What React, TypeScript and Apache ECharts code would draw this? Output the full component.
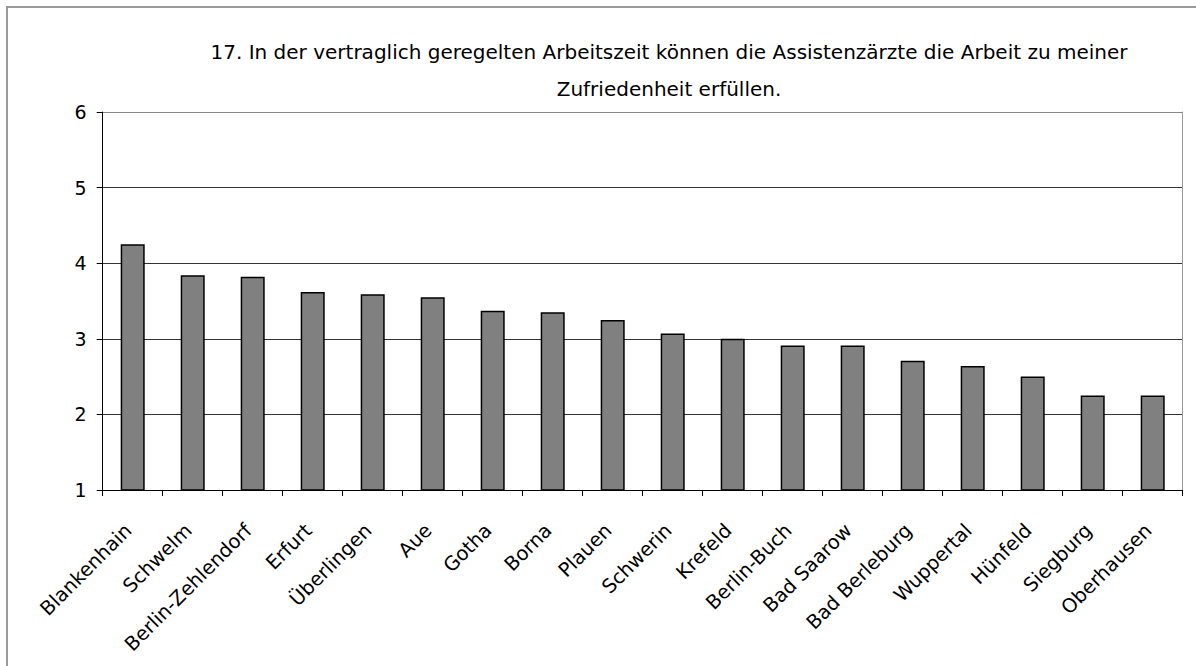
import React, { useEffect, useRef } from "react";
import * as echarts from "echarts";

const titleLine1 =
  "17. In der vertraglich geregelten Arbeitszeit können die Assistenzärzte die Arbeit zu meiner";
const titleLine2 = "Zufriedenheit erfüllen.";

const categories = [
  "Blankenhain",
  "Schwelm",
  "Berlin-Zehlendorf",
  "Erfurt",
  "Überlingen",
  "Aue",
  "Gotha",
  "Borna",
  "Plauen",
  "Schwerin",
  "Krefeld",
  "Berlin-Buch",
  "Bad Saarow",
  "Bad Berleburg",
  "Wuppertal",
  "Hünfeld",
  "Siegburg",
  "Oberhausen",
];

const values = [
  4.25, 3.84, 3.82, 3.62, 3.59, 3.55, 3.37, 3.35, 3.25, 3.07, 3.0, 2.91, 2.91,
  2.71, 2.64, 2.5, 2.25, 2.25,
];

const yMin = 1;
const yMax = 6;
const yInterval = 1;

const FONT = "'DejaVu Sans', 'Liberation Sans', Arial, sans-serif";

export default function App() {
  const ref = useRef<HTMLDivElement>(null);

  useEffect(() => {
    if (!ref.current) return;
    const chart = echarts.init(ref.current, null, { renderer: "svg" });
    const titleStyle = {
      fontFamily: FONT,
      fontSize: 20,
      fontWeight: "normal",
      color: "#000",
      lineHeight: 24,
    };
    chart.setOption({
      animation: false,
      backgroundColor: "#ffffff",
      textStyle: { fontFamily: FONT },
      title: [
        {
          text: titleLine1,
          left: 669,
          top: 40,
          textAlign: "center",
          padding: 0,
          textStyle: titleStyle,
        },
        {
          text: titleLine2,
          left: 669,
          top: 77,
          textAlign: "center",
          padding: 0,
          textStyle: titleStyle,
        },
      ],
      graphic: [
        {
          type: "rect",
          shape: { x: 7, y: 7, width: 1300, height: 800 },
          style: { fill: "none", stroke: "#999", lineWidth: 2 },
          silent: true,
          z: -1,
        },
      ],
      grid: {
        left: 102.7,
        right: 13.3,
        top: 112,
        bottom: 176,
        containLabel: false,
      },
      xAxis: {
        type: "category",
        data: categories,
        boundaryGap: true,
        axisLine: { show: true, lineStyle: { color: "#000", width: 1 } },
        axisTick: {
          show: true,
          length: 6,
          lineStyle: { color: "#000", width: 1 },
        },
        axisLabel: {
          interval: 0,
          rotate: 45,
          fontSize: 19.5,
          color: "#000",
          fontFamily: FONT,
          margin: 33,
          padding: [0, 6, 0, 0],
        },
        splitLine: { show: false },
      },
      yAxis: [
        {
          type: "value",
          min: yMin,
          max: yMax,
          interval: yInterval,
          axisLine: { show: true, lineStyle: { color: "#000", width: 1 } },
          axisTick: {
            show: true,
            length: 6,
            lineStyle: { color: "#000", width: 1 },
          },
          axisLabel: {
            fontSize: 19,
            color: "#000",
            fontFamily: FONT,
            margin: 16,
          },
          splitLine: {
            show: true,
            lineStyle: {
              color: ["#000", "#333", "#333", "#333", "#333", "#888"],
              width: 1,
            },
          },
        },
        {
          type: "value",
          min: yMin,
          max: yMax,
          interval: yInterval,
          position: "right",
          axisLine: { show: true, lineStyle: { color: "#999", width: 1 } },
          axisTick: { show: false },
          axisLabel: { show: false },
          splitLine: { show: false },
        },
      ],
      series: [
        {
          type: "bar",
          data: values,
          yAxisIndex: 0,
          barWidth: "40%",
          itemStyle: {
            color: "#808080",
            borderColor: "#000",
            borderWidth: 1.5,
          },
        },
      ],
    });
    return () => chart.dispose();
  }, []);

  return (
    <div
      ref={ref}
      style={{
        position: "fixed",
        left: 0,
        top: 0,
        width: 1196,
        height: 666,
        background: "#fff",
      }}
    />
  );
}
